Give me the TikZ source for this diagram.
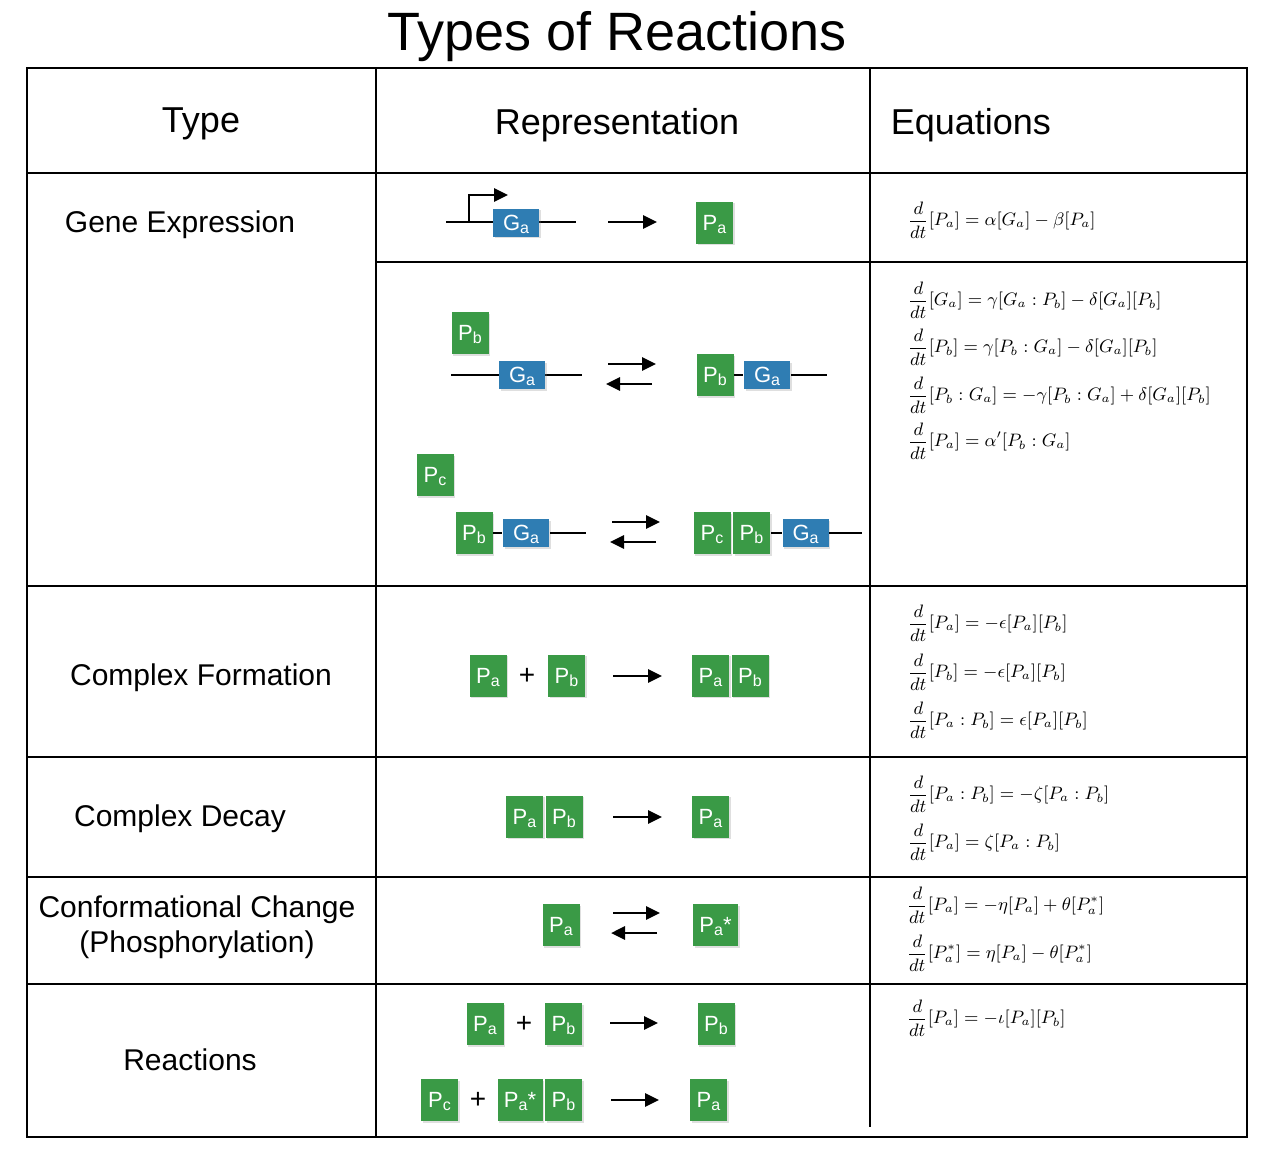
\documentclass[tikz,border=0pt]{standalone}
\usepackage{amsmath}
\usepackage[no-math]{fontspec}
\setmainfont{Liberation Sans}
\usetikzlibrary{arrows.meta,shadows,positioning}

\definecolor{protgreen}{RGB}{58,154,70}
\definecolor{geneblue}{RGB}{47,125,179}

\newcommand{\lowsub}[1]{\raisebox{-1.3pt}{\fontsize{8}{8}\selectfont #1}}

\tikzset{every picture/.style={line width=0.75pt}}
\tikzset{
  prot/.style={fill=protgreen, text=white, minimum width=18.5pt, minimum height=21pt, inner sep=0pt,
    text height=7.9pt, text depth=0pt, font=\fontsize{11}{11}\selectfont,
    drop shadow={shadow xshift=0.8pt, shadow yshift=-0.8pt, opacity=0.25}},
  protwide/.style={prot, minimum width=22.5pt},
  gene/.style={prot, fill=geneblue, minimum width=23pt, minimum height=14pt},
  dna/.style={line width=1.4pt},
  rxn/.style={line width=1.4pt, -{Triangle[length=7pt,width=6.5pt]}},
  tabline/.style={line width=1.4pt},
  eqn/.style={anchor=west, inner sep=0pt, font=\fontsize{9}{11}\selectfont},
  rowlabel/.style={font=\fontsize{15}{17.5}\selectfont, align=center},
  header/.style={font=\fontsize{18}{20}\selectfont, anchor=base, inner sep=0pt},
  plus/.style={font=\fontsize{14}{14}\selectfont, inner sep=0pt}
}

\begin{document}
\begin{tikzpicture}[x=0.5pt,y=0.5pt,yscale=-1]
\useasboundingbox (0,0) rectangle (1272,1158);

% title and table
\node[anchor=base] (title) at (617,50) {\fontsize{27}{30}\selectfont Types of Reactions};
\draw[tabline] (27,68) rectangle (1247,1137);
\draw[tabline] (376,68) -- (376,1137);
\draw[tabline] (870,68) -- (870,1127);
\draw[tabline] (27,173) -- (1247,173);
\draw[tabline] (376,262) -- (1247,262);
\draw[tabline] (27,586) -- (1247,586);
\draw[tabline] (27,757) -- (1247,757);
\draw[tabline] (27,877) -- (1247,877);
\draw[tabline] (27,984) -- (1247,984);

\node[header] (hdtype) at (201,132) {Type};
\node[header] (hdrep) at (617,134) {Representation};
\node[header, anchor=base west] (hdeq) at (890,134) {Equations};

% row labels
\node[rowlabel] (lblgene) at (180,225) {Gene Expression};
\node[rowlabel] (lblform) at (201,678) {Complex Formation};
\node[rowlabel] (lbldecay) at (180,819) {Complex Decay};
\node[rowlabel] (lblconf) at (197,927) {Conformational Change\\(Phosphorylation)};
\node[rowlabel] (lblreac) at (190,1060) {Reactions};

% gene expression
\coordinate (dna1l) at (446,222);
\coordinate (dna1r) at (576,222);
\coordinate (tss) at (469,222);
\coordinate (tssend) at (508,195);
\draw[dna] (dna1l) -- (dna1r);
\draw[dna, -{Triangle[length=7pt,width=6.5pt]}] (tss) |- (tssend);
\node[gene] (ga1) at (516,222.5) {G\lowsub{a}};
\node[prot] (pa1) at (714.5,222.5) {P\lowsub{a}};
\coordinate (r1a) at (608,222); \coordinate (r1b) at (657,222);
\draw[rxn] (r1a) -- (r1b);

% binding of Pb
\coordinate (dna2l) at (451,375);
\coordinate (dna2r) at (582,375);
\draw[dna] (dna2l) -- (dna2r);
\node[prot] (pb2) at (470,333) {P\lowsub{b}};
\node[gene] (ga2) at (522,375) {G\lowsub{a}};
\coordinate (r2a) at (608,364); \coordinate (r2b) at (656,364);
\coordinate (r3a) at (652,384); \coordinate (r3b) at (606,384);
\draw[rxn] (r2a) -- (r2b);
\draw[rxn] (r3a) -- (r3b);
\coordinate (dna3r) at (827,375);
\node[prot] (pb3) at (715,375) {P\lowsub{b}};
\node[gene] (ga3) at (767,375) {G\lowsub{a}};
\draw[dna] (pb3.east) -- (ga3.west);
\draw[dna] (ga3.east) -- (dna3r);

% binding of Pc
\node[prot] (pc4) at (435,475) {P\lowsub{c}};
\coordinate (dna5r) at (586,533);
\node[prot] (pb5) at (474,533) {P\lowsub{b}};
\node[gene] (ga5) at (526,533) {G\lowsub{a}};
\draw[dna] (pb5.east) -- (ga5.west);
\draw[dna] (ga5.east) -- (dna5r);
\coordinate (r4a) at (612,522); \coordinate (r4b) at (660,522);
\coordinate (r5a) at (656,542); \coordinate (r5b) at (610,542);
\draw[rxn] (r4a) -- (r4b);
\draw[rxn] (r5a) -- (r5b);
\coordinate (dna6r) at (862,533);
\node[prot] (pc6) at (712,533) {P\lowsub{c}};
\node[prot, right=0.5pt of pc6] (pb6) {P\lowsub{b}};
\node[gene, right=5.5pt of pb6] (ga6) {G\lowsub{a}};
\draw[dna] (pb6.east) -- (ga6.west);
\draw[dna] (ga6.east) -- (dna6r);

% complex formation
\node[prot] (pa7) at (488,675.5) {P\lowsub{a}};
\node[plus] (plus7) at (527,676) {+};
\node[prot] (pb7) at (566.5,675.5) {P\lowsub{b}};
\coordinate (r6a) at (613,676); \coordinate (r6b) at (662,676);
\draw[rxn] (r6a) -- (r6b);
\node[prot] (pa8) at (710.5,675.5) {P\lowsub{a}};
\node[prot, right=0.5pt of pa8] (pb8) {P\lowsub{b}};

% complex decay
\node[prot] (pa9) at (524.5,816.5) {P\lowsub{a}};
\node[prot, right=0.5pt of pa9] (pb9) {P\lowsub{b}};
\coordinate (r7a) at (613,817); \coordinate (r7b) at (662,817);
\draw[rxn] (r7a) -- (r7b);
\node[prot] (pa10) at (710.5,816.5) {P\lowsub{a}};

% conformational change
\node[prot] (pa11) at (561,925) {P\lowsub{a}};
\coordinate (r8a) at (613,913); \coordinate (r8b) at (660,913);
\coordinate (r9a) at (657,933); \coordinate (r9b) at (611,933);
\draw[rxn] (r8a) -- (r8b);
\draw[rxn] (r9a) -- (r9b);
\node[protwide] (pa12) at (715.5,925) {P\lowsub{a}*};

% reactions
\node[prot] (pa13) at (485,1024) {P\lowsub{a}};
\node[plus] (plus13) at (524,1024) {+};
\node[prot] (pb13) at (563.5,1024) {P\lowsub{b}};
\coordinate (r10a) at (610,1023); \coordinate (r10b) at (658,1023);
\draw[rxn] (r10a) -- (r10b);
\node[prot] (pb14) at (716,1024) {P\lowsub{b}};
\node[prot] (pc15) at (439.5,1100) {P\lowsub{c}};
\node[plus] (plus15) at (478,1100) {+};
\node[protwide] (pa15) at (520,1100) {P\lowsub{a}*};
\node[prot, right=0.5pt of pa15] (pb15) {P\lowsub{b}};
\coordinate (r11a) at (611,1100); \coordinate (r11b) at (659,1100);
\draw[rxn] (r11a) -- (r11b);
\node[prot] (pa16) at (708.5,1100) {P\lowsub{a}};

% equations
\node[eqn] (eq1) at (907,220) {$\displaystyle\frac{d}{dt}[P_a] = \alpha[G_a] - \beta[P_a]$};
\node[eqn] (eq2) at (907,300) {$\displaystyle\frac{d}{dt}[G_a] = \gamma[G_a : P_b] - \delta[G_a][P_b]$};
\node[eqn] (eq3) at (907,347) {$\displaystyle\frac{d}{dt}[P_b] = \gamma[P_b : G_a] - \delta[G_a][P_b]$};
\node[eqn] (eq4) at (907,395) {$\displaystyle\frac{d}{dt}[P_b : G_a] = -\gamma[P_b : G_a] + \delta[G_a][P_b]$};
\node[eqn] (eq5) at (907,441) {$\displaystyle\frac{d}{dt}[P_a] = \alpha'[P_b : G_a]$};
\node[eqn] (eq6) at (907,623) {$\displaystyle\frac{d}{dt}[P_a] = -\epsilon[P_a][P_b]$};
\node[eqn] (eq7) at (907,672) {$\displaystyle\frac{d}{dt}[P_b] = -\epsilon[P_a][P_b]$};
\node[eqn] (eq8) at (907,720) {$\displaystyle\frac{d}{dt}[P_a : P_b] = \epsilon[P_a][P_b]$};
\node[eqn] (eq9) at (907,794) {$\displaystyle\frac{d}{dt}[P_a : P_b] = -\zeta[P_a : P_b]$};
\node[eqn] (eq10) at (907,842) {$\displaystyle\frac{d}{dt}[P_a] = \zeta[P_a : P_b]$};
\node[eqn] (eq11) at (906,905) {$\displaystyle\frac{d}{dt}[P_a] = -\eta[P_a] + \theta[P_a^*]$};
\node[eqn] (eq12) at (906,953) {$\displaystyle\frac{d}{dt}[P_a^*] = \eta[P_a] - \theta[P_a^*]$};
\node[eqn] (eq13) at (906,1018) {$\displaystyle\frac{d}{dt}[P_a] = -\iota[P_a][P_b]$};
\end{tikzpicture}
\end{document}
